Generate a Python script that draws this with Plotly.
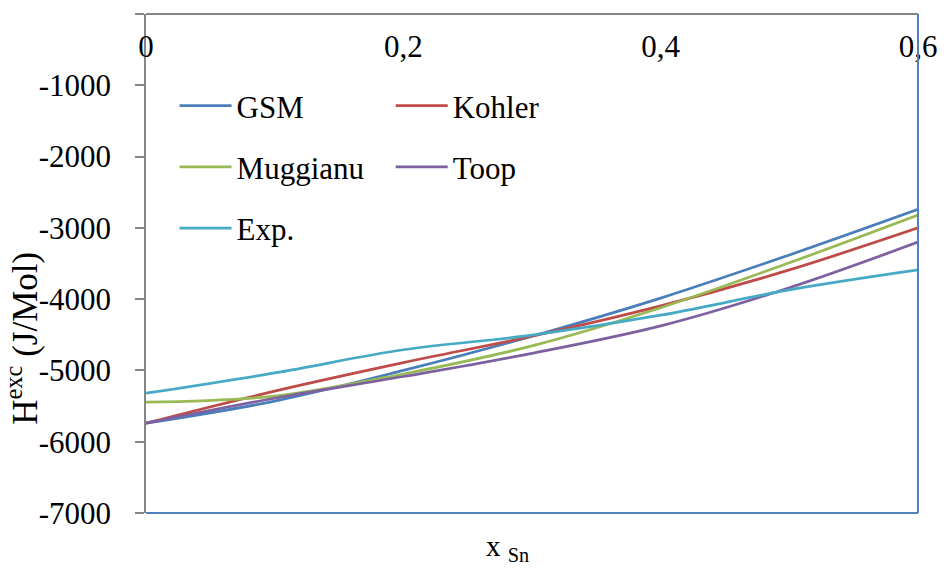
import plotly.graph_objects as go

# Mole fraction of Sn
x_sn = [0, 0.1, 0.2, 0.3, 0.4, 0.5, 0.6]

# Excess enthalpy (J/mol) from the geometric models and experiment
gsm = [-5740, -5430, -5000, -4520, -3985, -3380, -2740]
kohler = [-5740, -5290, -4890, -4520, -4095, -3590, -3000]
muggianu = [-5445, -5360, -5050, -4655, -4120, -3490, -2820]
toop = [-5740, -5390, -5085, -4760, -4375, -3840, -3200]
exp = [-5320, -5035, -4710, -4505, -4225, -3870, -3590]

y_ticks = [0, -1000, -2000, -3000, -4000, -5000, -6000, -7000]
y_tick_text = ["0", "-1000", "-2000", "-3000", "-4000", "-5000", "-6000", "-7000"]
x_ticks = [0, 0.2, 0.4, 0.6]
x_tick_text = ["0", "0,2", "0,4", "0,6"]

FONT = "Liberation Serif"
FS = 31

series = [
    ("GSM", gsm, "#4A7EBB", "legend"),
    ("Kohler", kohler, "#BE4B48", "legend2"),
    ("Muggianu", muggianu, "#98B954", "legend"),
    ("Toop", toop, "#7D60A0", "legend2"),
    ("Exp.", exp, "#46AAC5", "legend"),
]

fig = go.Figure()
for name, vals, color, leg in series:
    fig.add_trace(go.Scatter(
        x=x_sn, y=vals, name=name, mode="lines",
        line=dict(color=color, width=2.75, shape="spline", smoothing=1),
        legend=leg, legendgroup=name,
    ))

legend_style = dict(
    font=dict(family=FONT, size=FS, color="black"),
    bgcolor="rgba(0,0,0,0)", borderwidth=0,
    tracegroupgap=18, itemwidth=52,
    xanchor="left", yanchor="top",
)

fig.update_layout(
    template="none",
    width=944, height=572,
    margin=dict(l=146, r=26, t=14, b=59, autoexpand=False),
    paper_bgcolor="white", plot_bgcolor="white",
    font=dict(family=FONT, size=FS, color="black"),
    separators=", ",
    showlegend=True,
    legend=dict(x=0.037, y=0.87, **legend_style),
    legend2=dict(x=0.317, y=0.87, **legend_style),
    xaxis=dict(
        range=[0, 0.6], side="bottom", anchor="free", position=1,
        tickvals=x_ticks, ticktext=x_tick_text,
        ticks="outside", ticklen=0, automargin=False,
        ticklabelstandoff=5,
        showline=True, linecolor="#868686", linewidth=1.5,
        showgrid=False, zeroline=False,
        tickfont=dict(family=FONT, size=FS, color="black"),
    ),
    yaxis=dict(
        range=[-7000, 0], domain=[0, 1], automargin=False,
        tickvals=y_ticks, ticktext=y_tick_text,
        ticks="outside", ticklen=9, tickcolor="#868686", tickwidth=1.5,
        ticklabelstandoff=18,
        showline=True, linecolor="#868686", linewidth=1.5,
        showgrid=False, zeroline=False,
        tickfont=dict(family=FONT, size=FS, color="black"),
    ),
)

# Plot-area border on the bottom and right edges
border = dict(color="#4F81BD", width=2)
fig.add_shape(type="line", xref="paper", yref="paper", x0=0, x1=1, y0=0, y1=0,
              line=border, layer="above")
fig.add_shape(type="line", xref="paper", yref="paper", x0=1, x1=1, y0=0, y1=1,
              line=border, layer="above")

# Axis titles
fig.add_annotation(
    text="H<sup>exc</sup> (J/Mol)", textangle=-90,
    xref="paper", yref="paper", x=-0.16, y=0.35, xanchor="center", yanchor="middle",
    showarrow=False, font=dict(family=FONT, size=35, color="black"),
)
fig.add_annotation(
    text="x <sub>Sn</sub>",
    xref="paper", yref="paper", x=0.468, y=-0.07, xanchor="center", yanchor="middle",
    showarrow=False, font=dict(family=FONT, size=29, color="black"),
)

fig.write_html("out.html")
